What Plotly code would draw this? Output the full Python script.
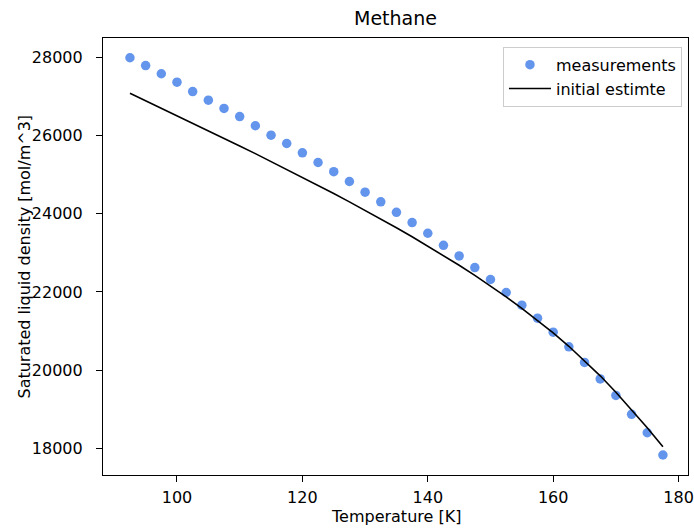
import plotly.graph_objects as go

temperature = [92.5, 95.0, 97.5, 100.0, 102.5, 105.0, 107.5, 110.0, 112.5, 115.0,
               117.5, 120.0, 122.5, 125.0, 127.5, 130.0, 132.5, 135.0, 137.5, 140.0,
               142.5, 145.0, 147.5, 150.0, 152.5, 155.0, 157.5, 160.0, 162.5, 165.0,
               167.5, 170.0, 172.5, 175.0, 177.5]

measured_density = [27985, 27785, 27576, 27362, 27120, 26902, 26690, 26482, 26247, 26005,
                    25793, 25554, 25308, 25073, 24822, 24549, 24303, 24035, 23772, 23499,
                    23192, 22919, 22623, 22317, 21985, 21661, 21329, 20971, 20596, 20198,
                    19777, 19355, 18870, 18400, 17831]

estimate_density = [27080, 26890, 26700, 26508, 26316, 26122, 25927, 25731, 25534, 25334,
                    25133, 24929, 24723, 24514, 24302, 24086, 23865, 23640, 23410, 23174,
                    22931, 22681, 22421, 22152, 21872, 21580, 21273, 20951, 20610, 20245,
                    19855, 19435, 18995, 18530, 18040]

x_ticks = [100, 120, 140, 160, 180]
y_ticks = [18000, 20000, 22000, 24000, 26000, 28000]

FONT = "DejaVu Sans"
W, H = 694, 530
ML, MR, MT, MB = 103, 6, 38, 55
PW, PH = W - ML - MR, H - MT - MB

fig = go.Figure()
fig.add_trace(go.Scatter(
    x=temperature, y=measured_density, mode="markers", name="measurements",
    marker=dict(color="#6495ED", size=9.5, line=dict(width=0)),
))
fig.add_trace(go.Scatter(
    x=temperature, y=estimate_density, mode="lines", name="initial estimte",
    line=dict(color="black", width=1.6),
))

axis_common = dict(
    showline=True, linecolor="black", linewidth=1.2, mirror=True,
    ticks="outside", ticklen=6, tickwidth=1.2, tickcolor="black",
    showgrid=False, zeroline=False, automargin=False,
    tickfont=dict(family=FONT, size=16, color="black"),
)

fig.update_layout(
    width=W, height=H,
    margin=dict(l=ML, r=MR, t=MT, b=MB),
    paper_bgcolor="white", plot_bgcolor="white",
    font=dict(family=FONT, size=16, color="black"),
    title=dict(text="Methane", x=0.5, xref="paper", y=1 - 18 / H, yref="container",
               xanchor="center", yanchor="middle", automargin=False,
               font=dict(family=FONT, size=19, color="black")),
    xaxis=dict(range=[88.2, 181.5], tickvals=x_ticks, ticklabelstandoff=2, **axis_common),
    yaxis=dict(range=[17320, 28490], tickvals=y_ticks, tickformat="d", ticklabelstandoff=10,
               **axis_common),
    legend=dict(x=0.9897, xanchor="right", y=0.98, yanchor="top", itemwidth=42,
                bgcolor="rgba(255,255,255,0.8)", bordercolor="#cccccc", borderwidth=1,
                font=dict(family=FONT, size=16, color="black")),
    showlegend=True,
    annotations=[
        dict(text="Temperature [K]", xref="paper", yref="paper",
             x=0.5, y=(MB - (516 - (H - MB + 0))) / PH - MB / PH if False else -(516 - (MT + PH)) / PH,
             xanchor="center", yanchor="middle", showarrow=False,
             font=dict(family=FONT, size=16, color="black")),
        dict(text="Saturated liquid density [mol/m^3]", xref="paper", yref="paper",
             x=(24 - ML) / PW, y=0.5, textangle=-90,
             xanchor="center", yanchor="middle", showarrow=False,
             font=dict(family=FONT, size=16, color="black")),
    ],
)

fig.write_html("out.html", config={"displayModeBar": False},
               post_script="document.body.style.margin='0';document.body.style.padding='0';")
